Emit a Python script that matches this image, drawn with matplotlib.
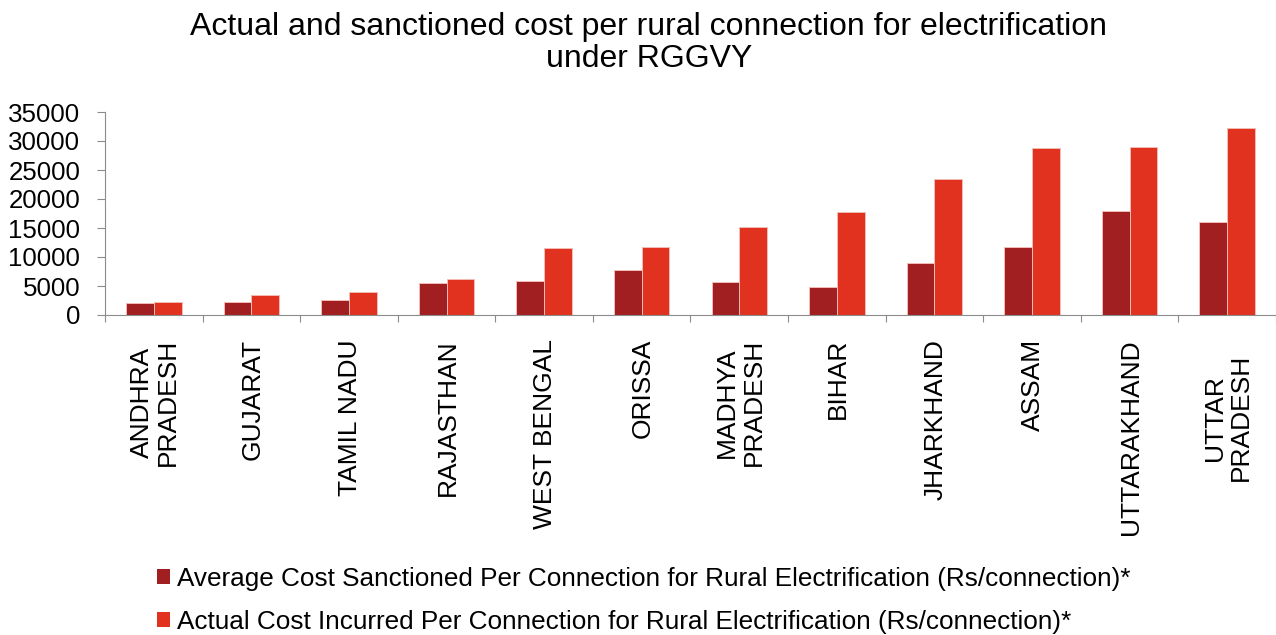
import matplotlib
matplotlib.use("Agg")
import matplotlib.pyplot as plt
import matplotlib.transforms as mtransforms
from matplotlib.patches import Patch
import numpy as np

plt.rcParams['font.family'] = ['Liberation Sans', 'DejaVu Sans']

states = ["ANDHRA\nPRADESH", "GUJARAT", "TAMIL NADU", "RAJASTHAN", "WEST BENGAL",
          "ORISSA", "MADHYA\nPRADESH", "BIHAR", "JHARKHAND", "ASSAM",
          "UTTARAKHAND", "UTTAR\nPRADESH"]
sanctioned = [2100, 2250, 2600, 5550, 5850, 7800, 5700, 4850, 9000, 11750, 18000, 16000]
actual = [2300, 3500, 4050, 6250, 11500, 11750, 15150, 17750, 23500, 28750, 28900, 32200]
yticks = [0, 5000, 10000, 15000, 20000, 25000, 30000, 35000]

series_names = [
    "Average Cost Sanctioned Per Connection for Rural Electrification (Rs/connection)*",
    "Actual Cost Incurred Per Connection for Rural Electrification (Rs/connection)*",
]
title = "Actual and sanctioned cost per rural connection for electrification\nunder RGGVY"

c_sanc = "#A21F21"
c_act = "#E0321F"
edge = "#F2BDB6"
axis_gray = "#8C8C8C"

fig = plt.figure(figsize=(12.76, 6.35), dpi=100)
ax = fig.add_axes([105 / 1276, 1 - 315 / 635, 1 - 105 / 1276, (315 - 112) / 635])

x = np.arange(len(states))
w = 0.284
ax.bar(x - w / 2, sanctioned, w, color=c_sanc, edgecolor=edge, linewidth=0.7, zorder=2)
ax.bar(x + w / 2, actual, w, color=c_act, edgecolor=edge, linewidth=0.7, zorder=2)

ax.set_xlim(-0.5, len(states) - 0.5)
ax.set_ylim(0, 35000)
ax.set_yticks(yticks)
ax.set_yticklabels([str(v) for v in yticks], fontsize=18.6)
ax.tick_params(axis='y', length=5.8, width=0.8, color=axis_gray, pad=12)

# category separators as ticks on the x axis
ax.set_xticks(np.arange(len(states) + 1) - 0.5)
ax.set_xticklabels([])
ax.tick_params(axis='x', length=5.2, width=0.8, color=axis_gray, direction='out')

for side in ("top", "right"):
    ax.spines[side].set_visible(False)
for side in ("left", "bottom"):
    ax.spines[side].set_color(axis_gray)
    ax.spines[side].set_linewidth(0.8)

# rotated category labels hanging under the axis
extra_drop = {"UTTAR\nPRADESH": 15}
for xi, name in zip(x, states):
    drop = 24 + extra_drop.get(name, 0)
    tr = ax.get_xaxis_transform() + mtransforms.ScaledTranslation(0, -drop / 100, fig.dpi_scale_trans)
    ax.text(xi + 0.01, 0, name, transform=tr, rotation=90, ha='center', va='top',
            multialignment='center', fontsize=19, linespacing=1.12)

fig.text(649 / 1276, 1 - 43 / 635, title, ha='center', va='center', fontsize=23,
         linespacing=1.12)

handles = [Patch(facecolor=c_sanc), Patch(facecolor=c_act)]
fig.legend(handles, series_names, loc='upper left', bbox_to_anchor=(157 / 1276, 1 - 567 / 635),
           frameon=False, fontsize=18.8, handlelength=0.5, handleheight=0.5,
           handletextpad=0.27, labelspacing=0.72, borderaxespad=0, borderpad=0)

fig.savefig("out.png", dpi=100)
